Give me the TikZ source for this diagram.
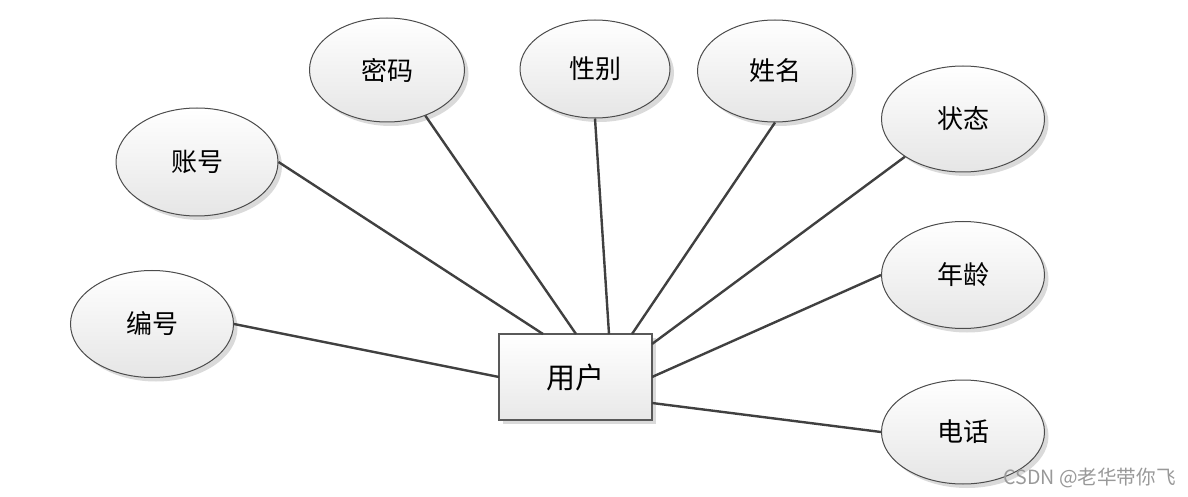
\documentclass[tikz,border=0pt]{standalone}
\usepackage{fontspec}
\newfontfamily\cjk{Noto Sans CJK SC}
\usetikzlibrary{shadows,shapes.geometric}
\begin{document}
\begin{tikzpicture}[x=0.5pt,y=-0.5pt,
  attr/.style={ellipse,draw=black!70,line width=0.5pt,inner sep=0pt,
    top color=white,bottom color=black!10,
    drop shadow={shadow xshift=2pt,shadow yshift=-2pt,fill=black!18,opacity=0.8},
    font=\cjk\fontsize{13}{15}\selectfont},
  ent/.style={rectangle,draw=black!65,line width=0.6pt,inner sep=0pt,
    top color=white,bottom color=black!9,
    minimum width=76.5pt,minimum height=43pt,
    drop shadow={shadow xshift=2pt,shadow yshift=-2pt,fill=black!18,opacity=0.8},
    font=\cjk\fontsize{14.5}{17}\selectfont},
  link/.style={draw=black!75,line width=1.2pt},
  wm/.style={text=black!40,font=\cjk\fontsize{9.8}{11}\selectfont,inner sep=0pt}]
\useasboundingbox (0,0) rectangle (1188,497);
\node[ent] (u) at (575.5,377) {用户};
\node[attr,minimum width=81.5pt,minimum height=53.5pt] (bh) at (152,324) {编号};
\node[attr,minimum width=81pt,minimum height=54pt] (zh) at (197,162) {账号};
\node[attr,minimum width=77.5pt,minimum height=52pt] (mm) at (387,70) {密码};
\node[attr,minimum width=75pt,minimum height=49pt] (xb) at (595,69) {性别};
\node[attr,minimum width=77.5pt,minimum height=51pt] (xm) at (775,71) {姓名};
\node[attr,minimum width=81.5pt,minimum height=53pt] (zt) at (963,119) {状态};
\node[attr,minimum width=81.5pt,minimum height=53.5pt] (nl) at (963,275) {年龄};
\node[attr,minimum width=81.5pt,minimum height=52pt] (dh) at (963,432) {电话};
\coordinate (p1) at (499,377);
\coordinate (p2) at (543,334);
\coordinate (p3) at (576,334);
\coordinate (p4) at (609,334);
\coordinate (p5) at (632,334);
\coordinate (p6) at (652,344);
\coordinate (p7) at (652,377);
\coordinate (p8) at (652,403);
\draw[link] (bh.east) -- (p1);
\draw[link] (zh.east) -- (p2);
\draw[link] (mm.-50) -- (p3);
\draw[link] (xb.south) -- (p4);
\draw[link] (xm.south) -- (p5);
\draw[link] (zt.-147) -- (p6);
\draw[link] (nl.west) -- (p7);
\draw[link] (dh.west) -- (p8);
\node[wm,anchor=west] (w) at (1003,478) {CSDN @老华带你飞};
\end{tikzpicture}
\end{document}
